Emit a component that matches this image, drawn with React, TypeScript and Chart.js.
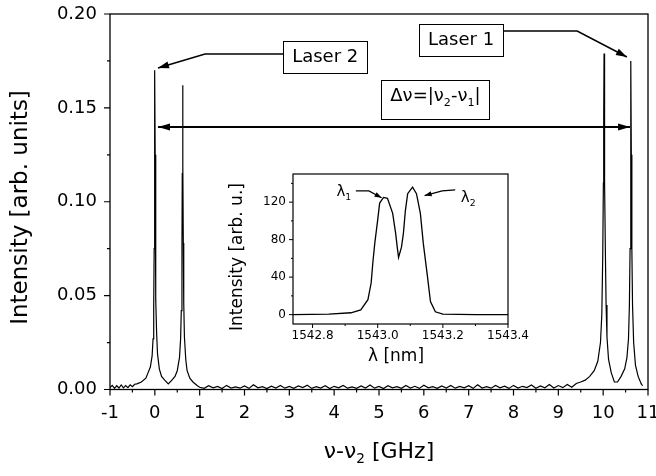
import React, { useEffect, useRef } from "react";
import { Chart, registerables } from "chart.js";
Chart.register(...registerables);

const FONT = "'DejaVu Sans', sans-serif";

// Main spectrum: frequency offset (GHz) vs intensity (arb. units)
const freq = [
  -1.0, -0.95, -0.9, -0.85, -0.8, -0.75, -0.7, -0.65, -0.6, -0.55,
  -0.5, -0.45, -0.4, -0.3, -0.2, -0.15,
  -0.1, -0.06, -0.04, -0.025, -0.015, -0.008, 0, 0.008, 0.015, 0.025,
  0.04, 0.06, 0.1, 0.15, 0.22, 0.3, 0.38, 0.45, 0.5, 0.55,
  0.575, 0.59, 0.605, 0.612, 0.62, 0.628, 0.635, 0.645, 0.66, 0.69,
  0.72, 0.78, 0.85, 0.95,
  1.0, 1.1, 1.2, 1.3, 1.4, 1.5, 1.6, 1.7, 1.8, 1.9,
  2.0, 2.1, 2.2, 2.3, 2.4, 2.5, 2.6, 2.7, 2.8, 2.9,
  3.0, 3.1, 3.2, 3.3, 3.4, 3.5, 3.6, 3.7, 3.8, 3.9,
  4.0, 4.1, 4.2, 4.3, 4.4, 4.5, 4.6, 4.7, 4.8, 4.9,
  5.0, 5.1, 5.2, 5.3, 5.4, 5.5, 5.6, 5.7, 5.8, 5.9,
  6.0, 6.1, 6.2, 6.3, 6.4, 6.5, 6.6, 6.7, 6.8, 6.9,
  7.0, 7.1, 7.2, 7.3, 7.4, 7.5, 7.6, 7.7, 7.8, 7.9,
  8.0, 8.1, 8.2, 8.3, 8.4, 8.5, 8.6, 8.7, 8.8, 8.9,
  9.0, 9.1, 9.2, 9.3, 9.4,
  9.5, 9.6, 9.7, 9.8,
  9.88, 9.94, 9.97, 9.99, 10.005, 10.012, 10.02, 10.028, 10.035, 10.05,
  10.065, 10.085, 10.12, 10.18, 10.25, 10.32, 10.4, 10.48, 10.53, 10.565,
  10.585, 10.6, 10.612, 10.62, 10.628, 10.64, 10.655, 10.68, 10.72, 10.78,
  10.85, 10.88,
];
const intensity = [
  0.001, 0.0022, 0.0006, 0.002, 0.0008, 0.0024, 0.0009, 0.0021, 0.001, 0.0025,
  0.0015, 0.0028, 0.003, 0.004, 0.006, 0.009,
  0.012, 0.018, 0.027, 0.045, 0.075, 0.12, 0.170, 0.125, 0.08, 0.048,
  0.03, 0.019, 0.011, 0.007, 0.005, 0.003, 0.005, 0.007, 0.010, 0.017,
  0.027, 0.042, 0.075, 0.115, 0.162, 0.12, 0.078, 0.046, 0.028, 0.016,
  0.010, 0.006, 0.004, 0.002,
  0.0012, 0.0006, 0.002, 0.0009, 0.0016, 0.0005, 0.0022, 0.0008, 0.0014, 0.0007,
  0.0019, 0.0006, 0.0025, 0.0009, 0.0015, 0.0005, 0.0018, 0.0008, 0.0021, 0.0007,
  0.0016, 0.0006, 0.0019, 0.001, 0.0023, 0.0006, 0.0015, 0.0008, 0.002, 0.0005,
  0.0017, 0.0009, 0.0022, 0.0007, 0.0014, 0.0006, 0.0019, 0.0008, 0.0024, 0.0007,
  0.0016, 0.0005, 0.002, 0.0009, 0.0015, 0.0006, 0.0021, 0.0008, 0.0017, 0.0006,
  0.0023, 0.0009, 0.0015, 0.0006, 0.0019, 0.0008, 0.0022, 0.0007, 0.0016, 0.0009,
  0.002, 0.0006, 0.0025, 0.0008, 0.0015, 0.0007, 0.0021, 0.0009, 0.0018, 0.0006,
  0.0022, 0.0008, 0.0017, 0.001, 0.0024, 0.0007, 0.0019, 0.0009, 0.0026, 0.0008,
  0.0021, 0.001, 0.0027, 0.0012, 0.0032,
  0.004, 0.005, 0.007, 0.010,
  0.015, 0.025, 0.04, 0.07, 0.11, 0.145, 0.179, 0.14, 0.11, 0.072,
  0.045, 0.028, 0.016, 0.009, 0.004, 0.004, 0.007, 0.011, 0.017, 0.027,
  0.045, 0.075, 0.12, 0.175, 0.125, 0.075, 0.045, 0.025, 0.013, 0.007,
  0.003, 0.002,
];

// Inset: optical spectrum, wavelength (nm) vs intensity (arb. u.)
const lambdaNm = [
  1542.74, 1542.85, 1542.918, 1542.948, 1542.97, 1542.98, 1542.985, 1542.991, 1543.0, 1543.006,
  1543.018, 1543.03, 1543.046, 1543.055, 1543.06, 1543.064, 1543.073, 1543.079, 1543.085, 1543.092,
  1543.107, 1543.119, 1543.131, 1543.14, 1543.153, 1543.162, 1543.177, 1543.2, 1543.3, 1543.4,
];
const insetIntensity = [
  0, 0.5, 2, 5, 16, 34, 55, 76, 101, 119,
  125, 124, 108, 87, 72, 61, 72, 87, 111, 129,
  136, 129, 108, 76, 40, 14, 3, 0.5, 0, 0,
];

const mainXTicks = [-1, 0, 1, 2, 3, 4, 5, 6, 7, 8, 9, 10, 11];
const mainYTicks = [0, 0.05, 0.1, 0.15, 0.2];
const mainXMinor = [-0.5, 0.5, 1.5, 2.5, 3.5, 4.5, 5.5, 6.5, 7.5, 8.5, 9.5, 10.5];
const mainYMinor = [0.025, 0.075, 0.125, 0.175];
const insetXTicks = [1542.8, 1543.0, 1543.2, 1543.4];
const insetXMinor = [1542.9, 1543.1, 1543.3];
const insetYTicks = [0, 40, 80, 120];
const insetYMinor = [20, 60, 100, 140];

type Seg = { t: string; sub?: boolean };

const yTitle: Seg[] = [{ t: "Intensity [arb. units]" }];
const xTitle: Seg[] = [{ t: "ν-ν" }, { t: "2", sub: true }, { t: " [GHz]" }];
const laser2Label: Seg[] = [{ t: "Laser 2" }];
const laser1Label: Seg[] = [{ t: "Laser 1" }];
const deltaLabel: Seg[] = [{ t: "Δν=|ν" }, { t: "2", sub: true }, { t: "-ν" }, { t: "1", sub: true }, { t: "|" }];
const insetYTitle: Seg[] = [{ t: "Intensity [arb. u.]" }];
const insetXTitle: Seg[] = [{ t: "λ [nm]" }];
const lambda1Label: Seg[] = [{ t: "λ" }, { t: "1", sub: true }];
const lambda2Label: Seg[] = [{ t: "λ" }, { t: "2", sub: true }];

// annotation anchors in data units
const laser2Box = { x: 3.8, y: 0.1771 };
const laser1Box = { x: 6.83, y: 0.1861 };
const deltaBox = { x: 6.26, y: 0.1545 };
const laser2Arrow: [number, number][] = [[2.86, 0.1787], [1.12, 0.1787], [0.07, 0.1712]];
const laser1Arrow: [number, number][] = [[7.77, 0.1909], [9.42, 0.1909], [10.53, 0.1771]];
const deltaArrow: [number, number][] = [[0.07, 0.1398], [10.6, 0.1398]];
const lambda1Pos = { x: 1542.896, y: 131 };
const lambda2Pos = { x: 1543.278, y: 124 };
const lambda1Arrow: [number, number][] = [[1542.933, 132], [1542.973, 132], [1543.012, 124.6]];
const lambda2Arrow: [number, number][] = [[1543.238, 133], [1543.198, 132], [1543.144, 127]];

function richWidth(ctx: CanvasRenderingContext2D, segs: Seg[], size: number) {
  let w = 0;
  for (const s of segs) {
    ctx.font = `${s.sub ? size * 0.62 : size}px ${FONT}`;
    w += ctx.measureText(s.t).width;
  }
  return w;
}

function drawRich(ctx: CanvasRenderingContext2D, segs: Seg[], x: number, y: number, size: number) {
  const w = richWidth(ctx, segs, size);
  let cx = x - w / 2;
  ctx.textBaseline = "middle";
  ctx.textAlign = "left";
  ctx.fillStyle = "#000";
  for (const s of segs) {
    const fs = s.sub ? size * 0.62 : size;
    ctx.font = `${fs}px ${FONT}`;
    ctx.fillText(s.t, cx, s.sub ? y + size * 0.36 : y);
    cx += ctx.measureText(s.t).width;
  }
}

function drawRotated(ctx: CanvasRenderingContext2D, segs: Seg[], x: number, y: number, size: number) {
  ctx.save();
  ctx.translate(x, y);
  ctx.rotate(-Math.PI / 2);
  drawRich(ctx, segs, 0, 0, size);
  ctx.restore();
}

function head(ctx: CanvasRenderingContext2D, fx: number, fy: number, tx: number, ty: number, len: number, hw: number) {
  const a = Math.atan2(ty - fy, tx - fx);
  const c = Math.cos(a), s = Math.sin(a);
  ctx.beginPath();
  ctx.moveTo(tx, ty);
  ctx.lineTo(tx - len * c + hw * s, ty - len * s - hw * c);
  ctx.lineTo(tx - len * c - hw * s, ty - len * s + hw * c);
  ctx.closePath();
  ctx.fill();
}

function arrow(ctx: CanvasRenderingContext2D, pts: [number, number][], both: boolean, lw: number, len: number, hw: number) {
  ctx.lineWidth = lw;
  ctx.strokeStyle = "#000";
  ctx.fillStyle = "#000";
  ctx.beginPath();
  pts.forEach((p, i) => (i === 0 ? ctx.moveTo(p[0], p[1]) : ctx.lineTo(p[0], p[1])));
  ctx.stroke();
  const n = pts.length;
  head(ctx, pts[n - 2][0], pts[n - 2][1], pts[n - 1][0], pts[n - 1][1], len, hw);
  if (both) head(ctx, pts[1][0], pts[1][1], pts[0][0], pts[0][1], len, hw);
}

function box(ctx: CanvasRenderingContext2D, segs: Seg[], cx: number, cy: number, size: number, h: number) {
  const w = richWidth(ctx, segs, size) + 18;
  ctx.fillStyle = "#fff";
  ctx.fillRect(cx - w / 2, cy - h / 2, w, h);
  ctx.strokeStyle = "#000";
  ctx.lineWidth = 1;
  ctx.strokeRect(Math.round(cx - w / 2) + 0.5, Math.round(cy - h / 2) + 0.5, Math.round(w), Math.round(h));
  drawRich(ctx, segs, cx, cy - (segs.some((s) => s.sub) ? 3 : 0), size);
}

function drawTicks(chart: any, xMaj: number[], xMin: number[], yMaj: number[], yMin: number[], maj: number, min: number) {
  const { ctx, chartArea: a, scales } = chart;
  const x = scales.x, y = scales.y;
  ctx.beginPath();
  for (const v of xMaj) { const p = x.getPixelForValue(v); ctx.moveTo(p, a.bottom); ctx.lineTo(p, a.bottom + maj); }
  for (const v of xMin) { const p = x.getPixelForValue(v); ctx.moveTo(p, a.bottom); ctx.lineTo(p, a.bottom + min); }
  for (const v of yMaj) { const p = y.getPixelForValue(v); ctx.moveTo(a.left, p); ctx.lineTo(a.left - maj, p); }
  for (const v of yMin) { const p = y.getPixelForValue(v); ctx.moveTo(a.left, p); ctx.lineTo(a.left - min, p); }
  ctx.stroke();
}

const mainDecor = {
  id: "mainDecor",
  afterDraw(chart: any) {
    const { ctx, chartArea: a, scales } = chart;
    const X = (v: number) => scales.x.getPixelForValue(v);
    const Y = (v: number) => scales.y.getPixelForValue(v);
    ctx.save();
    ctx.strokeStyle = "#000";
    ctx.lineWidth = 1.3;
    ctx.strokeRect(a.left, a.top, a.right - a.left, a.bottom - a.top);
    ctx.lineWidth = 1.2;
    drawTicks(chart, mainXTicks, mainXMinor, mainYTicks, mainYMinor, 6, 3);
    drawRotated(ctx, yTitle, 21, 207.5, 23);
    drawRich(ctx, xTitle, (a.left + a.right) / 2, 452, 22);
    const map = (pts: [number, number][]) => pts.map((p) => [X(p[0]), Y(p[1])] as [number, number]);
    arrow(ctx, map(laser2Arrow), false, 1.5, 11, 3.5);
    arrow(ctx, map(laser1Arrow), false, 1.5, 11, 3.5);
    arrow(ctx, map(deltaArrow), true, 2, 12, 3.5);
    box(ctx, laser2Label, X(laser2Box.x), Y(laser2Box.y), 18, 32);
    box(ctx, laser1Label, X(laser1Box.x), Y(laser1Box.y), 18, 32);
    box(ctx, deltaLabel, X(deltaBox.x), Y(deltaBox.y), 18, 39);
    ctx.restore();
  },
};

const insetDecor = {
  id: "insetDecor",
  afterDraw(chart: any) {
    const { ctx, chartArea: a, scales } = chart;
    const X = (v: number) => scales.x.getPixelForValue(v);
    const Y = (v: number) => scales.y.getPixelForValue(v);
    ctx.save();
    ctx.strokeStyle = "#000";
    ctx.lineWidth = 1.2;
    ctx.strokeRect(a.left, a.top, a.right - a.left, a.bottom - a.top);
    ctx.lineWidth = 1;
    drawTicks(chart, insetXTicks, insetXMinor, insetYTicks, insetYMinor, 4, 2);
    drawRotated(ctx, insetYTitle, 38, 92, 17);
    drawRich(ctx, insetXTitle, 196, 192, 17);
    drawRich(ctx, lambda1Label, X(lambda1Pos.x), Y(lambda1Pos.y), 15);
    drawRich(ctx, lambda2Label, X(lambda2Pos.x), Y(lambda2Pos.y), 15);
    const map = (pts: [number, number][]) => pts.map((p) => [X(p[0]), Y(p[1])] as [number, number]);
    arrow(ctx, map(lambda1Arrow), false, 1.2, 7, 2.5);
    arrow(ctx, map(lambda2Arrow), false, 1.2, 7, 2.5);
    ctx.restore();
  },
};

const fixX = (h: number) => (s: any) => { s.height = h; s.paddingLeft = 0; s.paddingRight = 0; };
const fixY = (w: number) => (s: any) => { s.width = w; s.paddingTop = 0; s.paddingBottom = 0; };

export default function App() {
  const mainRef = useRef<HTMLCanvasElement>(null);
  const insetRef = useRef<HTMLCanvasElement>(null);

  useEffect(() => {
    const tickFont = { family: FONT, size: 18 };
    const main = new Chart(mainRef.current!, {
      type: "line",
      data: {
        datasets: [
          {
            data: freq.map((f, i) => ({ x: f, y: intensity[i] })),
            borderColor: "#000",
            borderWidth: 1.2,
            pointRadius: 0,
            tension: 0,
            fill: false,
          },
        ],
      },
      options: {
        animation: false,
        responsive: false,
        maintainAspectRatio: false,
        layout: { padding: { top: 14, right: 8, left: 0, bottom: 0 } },
        plugins: { legend: { display: false }, tooltip: { enabled: false } },
        scales: {
          x: {
            type: "linear",
            min: -1,
            max: 11,
            grid: { display: false, drawTicks: false },
            border: { display: false },
            afterBuildTicks: (s: any) => { s.ticks = mainXTicks.map((v) => ({ value: v })); },
            ticks: { padding: 13, color: "#000", font: tickFont, maxRotation: 0, autoSkip: false, callback: (v: any) => String(v) },
            afterFit: fixX(86.5),
          },
          y: {
            type: "linear",
            min: 0,
            max: 0.2,
            grid: { display: false, drawTicks: false },
            border: { display: false },
            afterBuildTicks: (s: any) => { s.ticks = mainYTicks.map((v) => ({ value: v })); },
            ticks: { padding: 13, color: "#000", font: tickFont, autoSkip: false, callback: (v: any) => Number(v).toFixed(2) },
            afterFit: fixY(110),
          },
        },
      },
      plugins: [mainDecor],
    } as any);

    const insetFont = { family: FONT, size: 12 };
    const inset = new Chart(insetRef.current!, {
      type: "line",
      data: {
        datasets: [
          {
            data: lambdaNm.map((l, i) => ({ x: l, y: insetIntensity[i] })),
            borderColor: "#000",
            borderWidth: 1.3,
            pointRadius: 0,
            tension: 0,
            fill: false,
          },
        ],
      },
      options: {
        animation: false,
        responsive: false,
        maintainAspectRatio: false,
        layout: { padding: { top: 9, right: 22, left: 0, bottom: 0 } },
        plugins: { legend: { display: false }, tooltip: { enabled: false } },
        scales: {
          x: {
            type: "linear",
            min: 1542.74,
            max: 1543.4,
            grid: { display: false, drawTicks: false },
            border: { display: false },
            afterBuildTicks: (s: any) => { s.ticks = insetXTicks.map((v) => ({ value: v })); },
            ticks: { padding: 5, color: "#000", font: insetFont, maxRotation: 0, autoSkip: false, callback: (v: any) => Number(v).toFixed(1) },
            afterFit: fixX(51),
          },
          y: {
            type: "linear",
            min: -10,
            max: 150,
            grid: { display: false, drawTicks: false },
            border: { display: false },
            afterBuildTicks: (s: any) => { s.ticks = insetYTicks.map((v) => ({ value: v })); },
            ticks: { padding: 7, color: "#000", font: insetFont, autoSkip: false, callback: (v: any) => String(v) },
            afterFit: fixY(93),
          },
        },
      },
      plugins: [insetDecor],
    } as any);

    return () => {
      main.destroy();
      inset.destroy();
    };
  }, []);

  return (
    <div style={{ position: "fixed", left: 0, top: 0, width: 656, height: 476, background: "#fff" }}>
      <canvas ref={mainRef} width={656} height={476} style={{ position: "absolute", left: 0, top: 0 }} />
      <canvas ref={insetRef} width={330} height={210} style={{ position: "absolute", left: 200, top: 165 }} />
    </div>
  );
}
